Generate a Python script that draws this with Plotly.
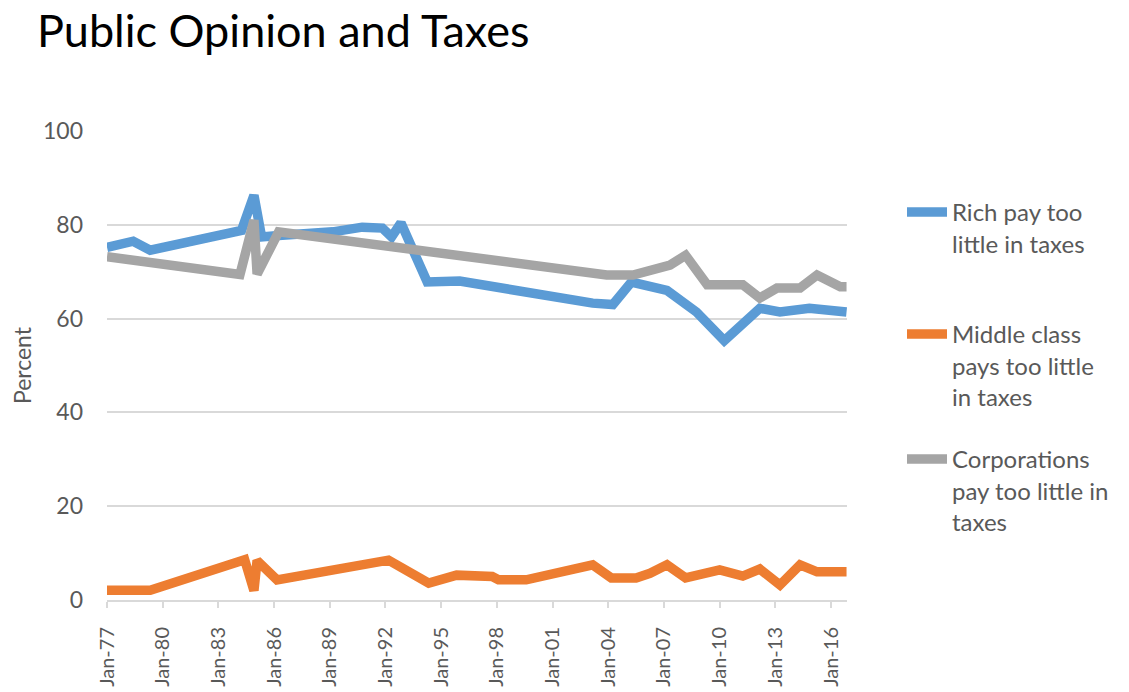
import plotly.graph_objects as go

# Share of respondents saying each group pays too little in taxes (percent)
rich_dates = ["1977-01", "1978-06", "1979-05", "1984-04", "1984-12", "1985-05",
              "1986-04", "1989-03", "1990-10", "1991-11", "1992-05", "1992-11",
              "1994-04", "1996-01", "2003-03", "2004-04", "2005-04", "2007-03",
              "2008-10", "2010-04", "2012-03", "2013-04", "2014-11", "2016-11"]
rich_pct = [75.2, 76.5, 74.6, 78.8, 86.3, 77.4,
            77.7, 78.5, 79.5, 79.3, 77.4, 80.4,
            67.8, 68.0, 63.3, 63.0, 67.8, 66.0,
            61.4, 55.3, 62.2, 61.4, 62.2, 61.4]

middle_dates = ["1977-01", "1979-05", "1984-06", "1984-12", "1985-02", "1986-03",
                "1992-03", "1994-05", "1995-11", "1997-10", "1998-02", "1999-08",
                "2003-03", "2004-03", "2005-07", "2006-04", "2007-03", "2008-03",
                "2010-01", "2011-04", "2012-03", "2013-04", "2014-05", "2015-04",
                "2016-11"]
middle_pct = [2.1, 2.1, 8.6, 2.0, 8.4, 4.3,
              8.5, 3.6, 5.3, 5.0, 4.3, 4.3,
              7.5, 4.7, 4.7, 5.7, 7.5, 4.7,
              6.4, 5.1, 6.6, 3.2, 7.5, 6.0,
              6.0]

corp_dates = ["1977-01", "1984-03", "1984-12", "1985-02", "1986-04", "2003-12",
              "2005-05", "2007-05", "2008-03", "2009-05", "2011-04", "2012-03",
              "2013-02", "2014-05", "2015-04", "2016-07", "2016-11"]
corp_pct = [73.2, 69.4, 81.0, 69.5, 78.5, 69.3,
            69.3, 71.4, 73.5, 67.2, 67.2, 64.4,
            66.5, 66.5, 69.3, 66.8, 66.8]

series_names = ["Rich pay too<br>little in taxes",
                "Middle class<br>pays too little<br>in taxes",
                "Corporations<br>pay too little in<br>taxes"]
series_colors = ["#5B9BD5", "#ED7D31", "#A5A5A5"]

TEXT = "#595959"
GRID = "#D9D9D9"
FONT = "Lato"

fig = go.Figure()
for dates, vals, name, color, leg in zip(
        [rich_dates, middle_dates, corp_dates],
        [rich_pct, middle_pct, corp_pct],
        series_names, series_colors, ["legend", "legend2", "legend3"]):
    fig.add_trace(go.Scatter(
        x=dates, y=vals, name=name, mode="lines",
        line=dict(color=color, width=9.5),
        legend=leg, showlegend=True,
    ))

legend_common = dict(
    xref="container", yref="container", xanchor="left", yanchor="top",
    font=dict(family=FONT, size=24, color=TEXT),
    valign="top", itemwidth=40, bgcolor="rgba(0,0,0,0)",
)

fig.update_layout(
    width=1129, height=692,
    margin=dict(l=107, r=282, t=131, b=92),
    paper_bgcolor="white", plot_bgcolor="white",
    font=dict(family=FONT, color=TEXT),
    showlegend=True,
    title=dict(
        text="Public Opinion and Taxes",
        font=dict(family=FONT, size=45, color="#000000"),
        x=37 / 1129, xanchor="left", xref="container",
        y=1 - 15 / 692, yanchor="top", yref="container",
    ),
    legend=dict(x=902 / 1129, y=1 - 190 / 692, **legend_common),
    legend2=dict(x=902 / 1129, y=1 - 312 / 692, **legend_common),
    legend3=dict(x=902 / 1129, y=1 - 437 / 692, **legend_common),
    xaxis=dict(
        type="date",
        range=["1977-01-01", "2016-11-10"],
        tick0="1977-01-01", dtick="M36", tickformat="%b-%y",
        tickangle=-90,
        tickfont=dict(family=FONT, size=20, color=TEXT),
        showgrid=False,
        showline=True, linecolor=GRID, linewidth=2,
        ticks="outside", ticklen=6, tickwidth=2, tickcolor=GRID,
        ticklabelstandoff=11,
        zeroline=False, automargin=False,
    ),
    yaxis=dict(
        range=[0, 100], tick0=0, dtick=20,
        tickfont=dict(family=FONT, size=23, color=TEXT),
        showgrid=True, gridcolor=GRID, gridwidth=2,
        zeroline=False, showline=False, automargin=False,
        ticklabelstandoff=23,
        title=dict(text="Percent", font=dict(family=FONT, size=23, color=TEXT),
                   standoff=4),
    ),
)

fig.write_html("out.html")
